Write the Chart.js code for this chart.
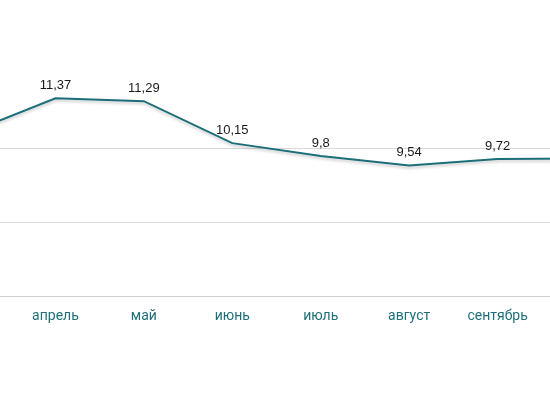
<!DOCTYPE html>
<html>
<head>
<meta charset="utf-8">
<script src="https://cdn.jsdelivr.net/npm/chart.js@4"></script>
<style>
  html, body { margin: 0; padding: 0; background: #ffffff; overflow: hidden; width: 550px; height: 410px; }
  #wrap { position: absolute; left: -33px; top: 0; width: 619px; height: 410px; }
</style>
</head>
<body>
<div id="wrap"><canvas id="c"></canvas></div>
<script>
const categories = ['март', 'апрель', 'май', 'июнь', 'июль', 'август', 'сентябрь', 'октябрь'];
const values = [10.41, 11.37, 11.29, 10.15, 9.8, 9.54, 9.72, 9.73];
const yTicks = [6, 8, 10, 12];

const lineColor = '#1c6e79';

const shadowPlugin = {
  id: 'shadow',
  beforeDatasetDraw(chart) {
    const ctx = chart.ctx;
    ctx.save();
    ctx.shadowColor = 'rgba(0,0,0,0.22)';
    ctx.shadowBlur = 3;
    ctx.shadowOffsetY = 2;
  },
  afterDatasetDraw(chart) {
    chart.ctx.restore();
  }
};

const labelPlugin = {
  id: 'valueLabels',
  afterDatasetsDraw(chart) {
    const ctx = chart.ctx;
    const meta = chart.getDatasetMeta(0);
    ctx.save();
    ctx.font = '13px "Liberation Sans", Arial, sans-serif';
    ctx.fillStyle = '#1a1a1a';
    ctx.textAlign = 'center';
    ctx.textBaseline = 'middle';
    meta.data.forEach((pt, i) => {
      const txt = String(values[i]).replace('.', ',');
      ctx.fillText(txt, pt.x, pt.y - 13);
    });
    ctx.restore();
  }
};

new Chart(document.getElementById('c'), {
  type: 'line',
  data: {
    labels: categories,
    datasets: [{
      data: values,
      borderColor: lineColor,
      borderWidth: 2,
      pointRadius: 0,
      tension: 0,
      fill: false
    }]
  },
  options: {
    responsive: true,
    maintainAspectRatio: false,
    animation: false,
    layout: { padding: { top: 75, bottom: 0, left: 0, right: 0 } },
    plugins: { legend: { display: false }, tooltip: { enabled: false } },
    scales: {
      x: {
        offset: false,
        grid: { display: false, drawTicks: false },
        border: { display: true, color: '#cfcfcf', width: 1 },
        ticks: {
          color: '#1f6f79',
          font: { family: 'Roboto', size: 14 },
          padding: 12,
          maxRotation: 0,
          autoSkip: false
        },
        afterFit(s) { s.paddingLeft = 0; s.paddingRight = 0; s.height = 114; }
      },
      y: {
        min: yTicks[0],
        max: yTicks[yTicks.length - 1],
        afterBuildTicks(s) { s.ticks = yTicks.map(v => ({ value: v })); },
        ticks: { display: false },
        grid: {
          drawTicks: false,
          color: (c) => (c.tick && (c.tick.value === 12 || c.tick.value === 6)) ? 'rgba(0,0,0,0)' : '#d9d9d9',
          lineWidth: 1
        },
        border: { display: false },
        afterFit(s) { s.width = 0; s.paddingTop = 0; s.paddingBottom = 0; }
      }
    }
  },
  plugins: [shadowPlugin, labelPlugin]
});
</script>
</body>
</html>
